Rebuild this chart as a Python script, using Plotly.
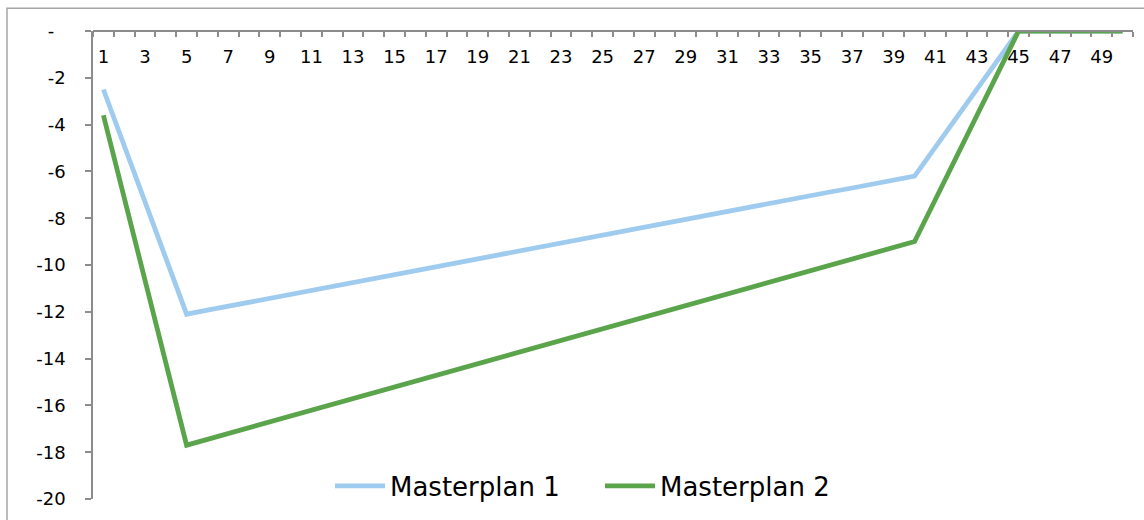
import plotly.graph_objects as go

periods = list(range(1, 51))

masterplan_1 = [
    -2.5, -4.9, -7.3, -9.7, -12.1,
    -11.93, -11.76, -11.59, -11.43, -11.26, -11.09, -10.92, -10.75, -10.58, -10.41,
    -10.25, -10.08, -9.91, -9.74, -9.57, -9.40, -9.23, -9.07, -8.90, -8.73,
    -8.56, -8.39, -8.22, -8.05, -7.89, -7.72, -7.55, -7.38, -7.21, -7.04,
    -6.87, -6.71, -6.54, -6.37, -6.2,
    -4.96, -3.72, -2.48, -1.24, 0.0,
    0.0, 0.0, 0.0, 0.0, 0.0,
]

masterplan_2 = [
    -3.6, -7.13, -10.65, -14.18, -17.7,
    -17.45, -17.20, -16.95, -16.71, -16.46, -16.21, -15.96, -15.71, -15.46, -15.21,
    -14.97, -14.72, -14.47, -14.22, -13.97, -13.72, -13.47, -13.23, -12.98, -12.73,
    -12.48, -12.23, -11.98, -11.73, -11.49, -11.24, -10.99, -10.74, -10.49, -10.24,
    -9.99, -9.75, -9.50, -9.25, -9.0,
    -7.2, -5.4, -3.6, -1.8, 0.0,
    0.0, 0.0, 0.0, 0.0, 0.0,
]

x_tick_vals = list(range(1, 51, 2))
x_tick_text = [str(v) for v in x_tick_vals]
y_tick_vals = list(range(-20, 1, 2))
y_tick_text = [str(v) for v in range(-20, 0, 2)] + ["-\u00a0\u00a0"]

FONT = "DejaVu Sans"
AXIS_COLOR = "#8c8c8c"

fig = go.Figure()
fig.add_trace(go.Scatter(
    x=periods, y=masterplan_1, mode="lines", name="Masterplan 1",
    line=dict(color="#9fcbef", width=4.8),
))
fig.add_trace(go.Scatter(
    x=periods, y=masterplan_2, mode="lines", name="Masterplan 2",
    line=dict(color="#5aa54b", width=4.8),
))

fig.update_layout(
    width=1144, height=520,
    margin=dict(l=93, r=11, t=31, b=17),
    paper_bgcolor="white", plot_bgcolor="white",
    font=dict(family=FONT, size=18, color="#000000"),
    showlegend=True,
    legend=dict(
        orientation="h", x=0.4875, xanchor="center", y=0.028, yanchor="middle",
        font=dict(family=FONT, size=26, color="#000000"),
        bgcolor="rgba(0,0,0,0)", itemwidth=50, entrywidth=205,
    ),
    xaxis=dict(
        range=[0.5, 50.5], side="bottom", anchor="free", position=1,
        showgrid=False, zeroline=False, automargin=False,
        showline=True, linecolor=AXIS_COLOR, linewidth=1.5,
        tickmode="array", tickvals=x_tick_vals, ticktext=x_tick_text,
        ticks="", ticklabelstandoff=10,
        tickfont=dict(family=FONT, size=18),
        minor=dict(tickmode="linear", tick0=0.5, dtick=1, ticks="outside",
                   ticklen=5, tickcolor=AXIS_COLOR, tickwidth=1.5, showgrid=False),
    ),
    yaxis=dict(
        range=[-20, 0], showgrid=False, zeroline=False, automargin=False,
        showline=True, linecolor=AXIS_COLOR, linewidth=1.5,
        tickmode="array", tickvals=y_tick_vals, ticktext=y_tick_text,
        ticks="outside", ticklen=6, tickcolor=AXIS_COLOR, tickwidth=1.5,
        ticklabelstandoff=16,
        tickfont=dict(family=FONT, size=18),
    ),
    shapes=[dict(
        type="rect", xref="paper", yref="paper",
        x0=(7 - 93) / 1040, x1=(1150 - 93) / 1040,
        y0=(503 - 530) / 472, y1=(503 - 8) / 472,
        line=dict(color="#a6a6a6", width=1.5), fillcolor="rgba(0,0,0,0)",
        layer="below",
    )],
)

fig.write_html("out.html")
